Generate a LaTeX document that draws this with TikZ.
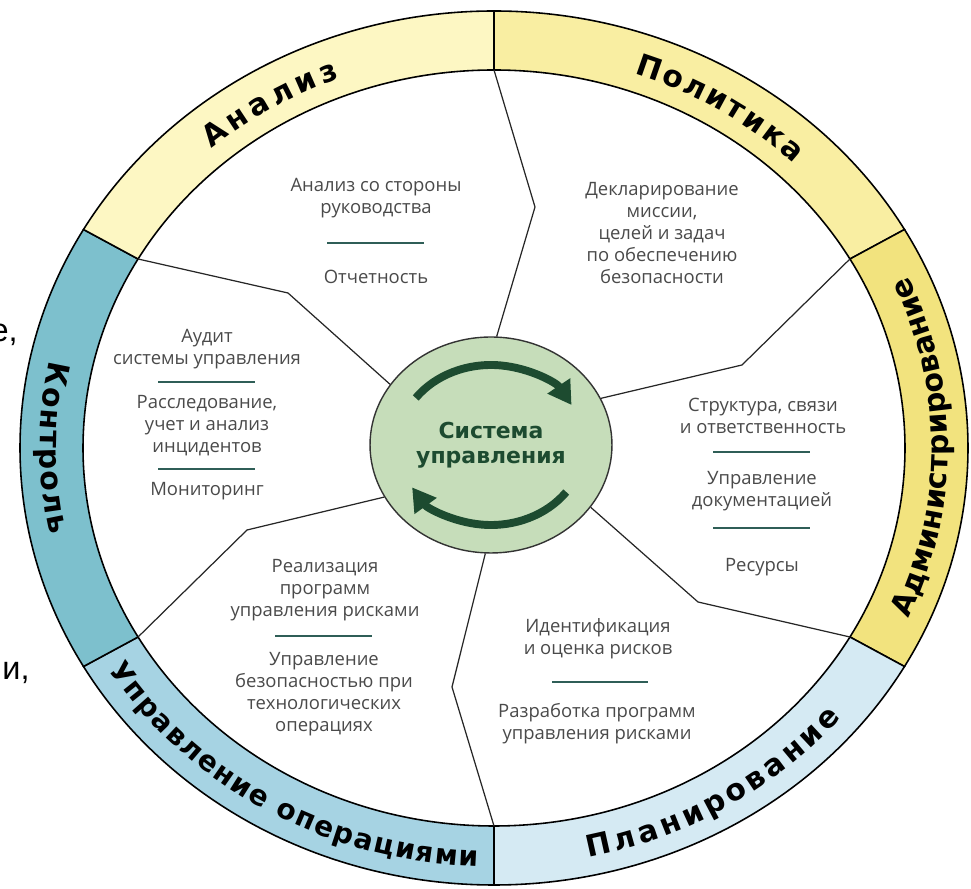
\documentclass[tikz,border=0pt]{standalone}
\usepackage{fontspec}
\setmainfont{Open Sans}
\newfontfamily\bandfont{DejaVu Sans}
\newfontfamily\edgefont{Liberation Sans}
\usetikzlibrary{shapes.geometric,decorations.text,arrows.meta}

\definecolor{analizC}{HTML}{FDF7C3}
\definecolor{politC}{HTML}{F9EEA2}
\definecolor{adminC}{HTML}{F2E37E}
\definecolor{planC}{HTML}{D5EAF3}
\definecolor{operC}{HTML}{A6D3E3}
\definecolor{kontrC}{HTML}{7DC0CD}
\definecolor{sysC}{HTML}{C6DDBA}
\definecolor{sysD}{HTML}{1D4B30}
\definecolor{divC}{HTML}{2F5E57}
\definecolor{textC}{HTML}{4A4A4A}

\newcommand\lblfont{\bandfont\bfseries\fontsize{17}{19}\selectfont}
\newcommand\lblsmallfont{\bandfont\bfseries\fontsize{16}{18}\selectfont}

\begin{document}
\begin{tikzpicture}
  [x=0.02cm, y=0.02cm,
  band/.style={draw=black, line width=0.9pt},
  sep/.style={draw=black!85, line width=0.7pt},
  txt/.style={align=center, text=textC, inner sep=0pt, font=\fontsize{10.5}{12.5}\selectfont},
  divline/.style={draw=divC, line width=1.1pt},
  lbl/.style={decorate, decoration={text along path, text align={fit to path}, text={|\lblfont|#1}}},
  lblsmall/.style={decorate, decoration={text along path, text align={fit to path}, text={|\lblsmallfont|#1}}},
  sysnode/.style={ellipse, draw=black!80, line width=0.8pt, fill=sysC, minimum width=4.84cm, minimum height=4.32cm, inner sep=0pt, align=center, text=sysD, font=\bandfont\bfseries\fontsize{12.5}{14.4}\selectfont},
  cyc/.style={draw=sysD, line width=4.5pt, -{Triangle[length=0.46cm, width=0.52cm]}},
  edge/.style={font=\edgefont\fontsize{18.5}{20}\selectfont, inner sep=0pt}]

  \useasboundingbox (0,0) rectangle (971,889);

  % outer ring
  \begin{scope}[shift={(494,441)}]
    \draw[band, fill=politC] (90:474 and 437) arc[start angle=90, end angle=30, x radius=474, y radius=437] -- (30:411 and 378) arc[start angle=30, end angle=90, x radius=411, y radius=378] -- cycle;
    \draw[band, fill=adminC] (30:474 and 437) arc[start angle=30, end angle=-30, x radius=474, y radius=437] -- (-30:411 and 378) arc[start angle=-30, end angle=30, x radius=411, y radius=378] -- cycle;
    \draw[band, fill=planC] (-30:474 and 437) arc[start angle=-30, end angle=-90, x radius=474, y radius=437] -- (-90:411 and 378) arc[start angle=-90, end angle=-30, x radius=411, y radius=378] -- cycle;
    \draw[band, fill=operC] (270:474 and 437) arc[start angle=270, end angle=210, x radius=474, y radius=437] -- (210:411 and 378) arc[start angle=210, end angle=270, x radius=411, y radius=378] -- cycle;
    \draw[band, fill=kontrC] (210:474 and 437) arc[start angle=210, end angle=150, x radius=474, y radius=437] -- (150:411 and 378) arc[start angle=150, end angle=210, x radius=411, y radius=378] -- cycle;
    \draw[band, fill=analizC] (150:474 and 437) arc[start angle=150, end angle=90, x radius=474, y radius=437] -- (90:411 and 378) arc[start angle=90, end angle=150, x radius=411, y radius=378] -- cycle;

    \coordinate (b90) at (90:411 and 378);
    \coordinate (b30) at (30:411 and 378);
    \coordinate (b330) at (-30:411 and 378);
    \coordinate (b270) at (-90:411 and 378);
    \coordinate (b210) at (210:411 and 378);
    \coordinate (b150) at (150:411 and 378);

    % ring labels
    \path[lbl=Анализ] (131:431 and 396) arc[start angle=131, end angle=111, x radius=431, y radius=396];
    \path[lbl=Политика] (71:431 and 396) arc[start angle=71, end angle=46, x radius=431, y radius=396];
    \path[lbl=Администрирование] (-24:454 and 419) arc[start angle=-24, end angle=23, x radius=454, y radius=419];
    \path[lbl=Планирование] (-78:454 and 419) arc[start angle=-78, end angle=-40, x radius=454, y radius=419];
    \path[lblsmall={Управление операциями}] (212:454 and 419) arc[start angle=212, end angle=268, x radius=454, y radius=419];
    \path[lbl=Контроль] (168:454 and 419) arc[start angle=168, end angle=192, x radius=454, y radius=419];
  \end{scope}

  \node[sysnode] (sys) at (491,444) {Система\\управления};

  \draw[sep] (sys.149) -- (288,596) -- (b150);
  \draw[sep] (sys.87) -- (535,682) -- (b90);
  \draw[sep] (sys.23) -- (742,524) -- (b30);
  \draw[sep] (sys.-32) -- (698,287) -- (b330);
  \draw[sep] (sys.-93) -- (452,202) -- (b270);
  \draw[sep] (sys.206) -- (247,359) -- (b210);

  \draw[cyc] (sys.center) ++(144:93 and 80) arc[start angle=144, end angle=30, x radius=93, y radius=80];
  \draw[cyc] (sys.center) ++(-36:93 and 80) arc[start angle=-36, end angle=-148, x radius=93, y radius=80];

  % Анализ
  \node[txt] (an1) at (376,691) {Анализ со стороны\\руководства};
  \draw[divline] (327,646) -- (424,646);
  \node[txt] (an2) at (376,612) {Отчетность};

  % Политика
  \node[txt] (po1) at (662,656) {Декларирование\\миссии,\\целей и задач\\по обеспечению\\безопасности};

  % Администрирование
  \node[txt] (ad1) at (763,473) {Структура, связи\\и ответственность};
  \draw[divline] (713,437) -- (810,437);
  \node[txt] (ad2) at (762,398) {Управление\\документацией};
  \draw[divline] (713,361) -- (810,361);
  \node[txt] (ad3) at (762,322) {Ресурсы};

  % Планирование
  \node[txt] (pl1) at (598,250) {Идентификация\\и оценка рисков};
  \draw[divline] (552,207) -- (648,207);
  \node[txt] (pl2) at (597,165) {Разработка программ\\управления рисками};

  % Управление операциями
  \node[txt] (op1) at (325,299) {Реализация\\программ\\управления рисками};
  \draw[divline] (275,253) -- (372,253);
  \node[txt] (op2) at (324,195) {Управление\\безопасностью при\\технологических\\операциях};

  % Контроль
  \node[txt] (ko1) at (207,540) {Аудит\\системы управления};
  \draw[divline] (158,507) -- (255,507);
  \node[txt] (ko2) at (207,463) {Расследование,\\учет и анализ\\инцидентов};
  \draw[divline] (158,420) -- (255,420);
  \node[txt] (ko3) at (207,398) {Мониторинг};

  \node[edge, anchor=base east] (e1) at (18,547) {е,};
  \node[edge, anchor=base west] (e2) at (2,209) {и,};

\end{tikzpicture}
\end{document}
